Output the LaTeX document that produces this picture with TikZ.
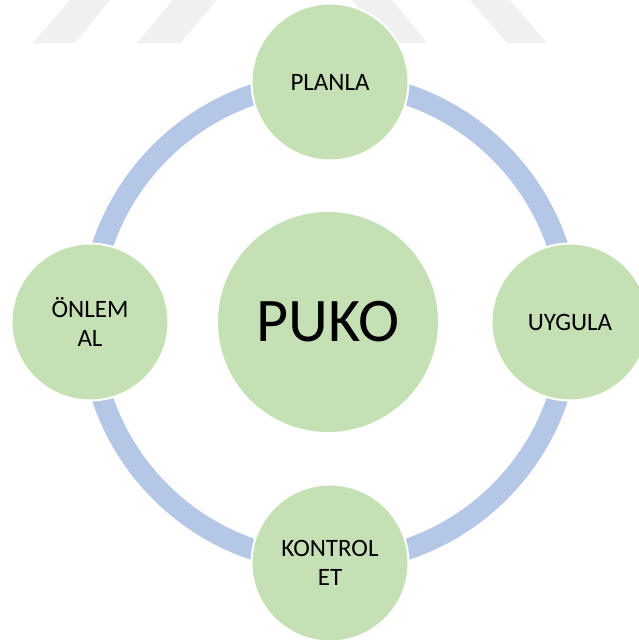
\documentclass[tikz,border=0pt]{standalone}
\usepackage{fontspec}
\setmainfont{Carlito}
\definecolor{nodegreen}{HTML}{C5E0B4}
\definecolor{ringblue}{HTML}{B4C7E7}
\definecolor{wmgray}{HTML}{F0F0F0}
\begin{document}
\begin{tikzpicture}[x=1pt,y=-1pt,
  stage/.style={circle,fill=nodegreen,draw=white,line width=2pt,minimum size=157pt,inner sep=0pt,
    align=center,font=\fontsize{25}{29}\selectfont,text=black},
  hub/.style={circle,fill=nodegreen,minimum size=220pt,inner sep=0pt,
    font=\fontsize{62}{70}\selectfont,text=black},
  ring/.style={draw=ringblue,line width=21pt},
  wmshape/.style={fill=wmgray}]
\useasboundingbox (0,0) rectangle (639,640);
% faint watermark
\fill[wmshape] (70,0) -- (110,0) -- (75,43) -- (33,43) -- cycle;
\fill[wmshape] (173,0) -- (217,0) -- (180,43) -- (137,43) -- cycle;
\fill[wmshape] (352,0) -- (392,0) -- (427,43) -- (388,43) -- cycle;
\fill[wmshape] (470,0) -- (510,0) -- (547,43) -- (507,43) -- cycle;
% ring
\coordinate (c) at (330,322);
\draw[ring] (c) circle[radius=240];
% nodes
\node[hub] (puko) at (328,322) {PUKO};
\node[stage] (planla) at (330,82) {PLANLA};
\node[stage] (uygula) at (570,322) {UYGULA};
\node[stage] (kontrol) at (330,563) {KONTROL\\ET};
\node[stage] (onlem) at (90,322) {ÖNLEM\\AL};
\end{tikzpicture}
\end{document}
